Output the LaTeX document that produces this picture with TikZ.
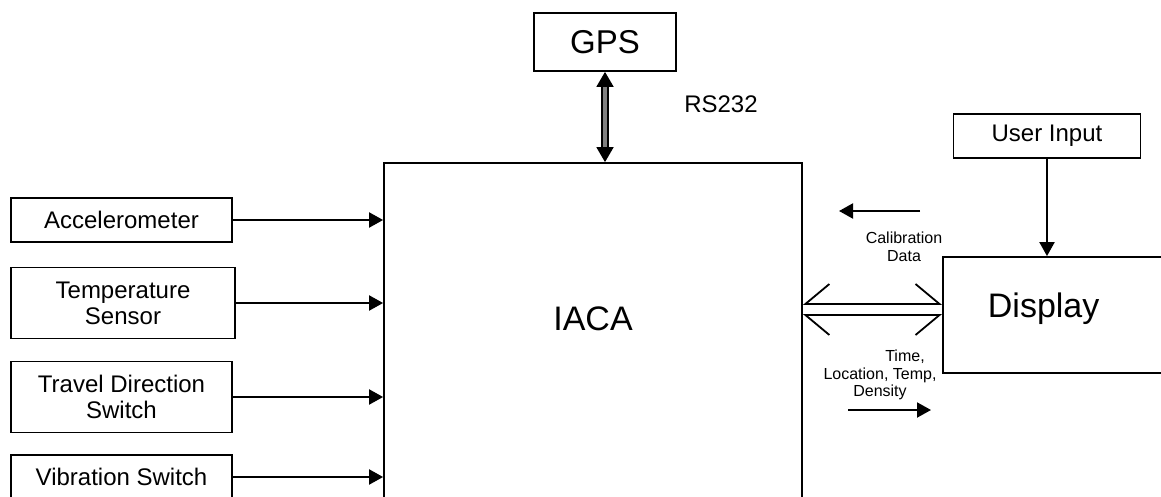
\documentclass[tikz,border=0pt]{standalone}
\usepackage{fontspec}
\setmainfont{Liberation Sans}
\usetikzlibrary{arrows.meta}

\tikzset{
  block/.style={draw, line width=1.8pt, inner sep=0pt, align=center, font=\fontsize{24}{26}\selectfont},
  bigtext/.style={font=\fontsize{34}{36}\selectfont},
  feed/.style={line width=2pt, -{Triangle[length=14pt,width=15pt]}},
  note/.style={align=center, inner sep=0pt, font=\fontsize{16}{17.5}\selectfont},
  barbT/.style={line width=1.8pt, {Straight Barb[right,length=24pt,width=40pt]}-{Straight Barb[left,length=24pt,width=40pt]}},
  barbB/.style={line width=1.8pt, {Straight Barb[left,length=24pt,width=40pt]}-{Straight Barb[right,length=24pt,width=40pt]}}
}

\begin{document}
\begin{tikzpicture}[x=1pt,y=-1pt]
        \useasboundingbox (0,0) rectangle (1161,497);

        % sensors
        \node[block, minimum width=221pt, minimum height=44pt] (acc) at (121.5, 220) {Accelerometer};
        \node[block, minimum width=224pt, minimum height=71pt] (temp) at (123, 303) {Temperature\\Sensor};
        \node[block, minimum width=221pt, minimum height=71pt] (travel) at (121.5, 397) {Travel Direction\\Switch};
        \node[block, minimum width=221pt, minimum height=44pt] (vib) at (121.5, 477) {Vibration Switch};

        % main unit
        \node[block, bigtext, minimum width=418pt, minimum height=357pt, text depth=45pt] (iaca) at (593, 341.5) {IACA};
        \node[block, font=\fontsize{33}{36}\selectfont, minimum width=142pt, minimum height=58pt] (gps) at (605, 42) {GPS};
        \node[inner sep=0pt, font=\fontsize{24}{26}\selectfont] (rs) at (721, 104) {RS232};

        % display side
        \node[block, minimum width=187pt, minimum height=44pt] (user) at (1047, 136) {User Input};
        \node[block, bigtext, anchor=west, minimum height=116pt, text width=150pt, inner xsep=45pt, align=left, text depth=20pt] (disp) at (942, 315) {Display};
        \node[note] (cal) at (904, 247) {Calibration\\Data};
        \node[note] (info) at (880, 375) {\hspace*{50pt}Time,\\Location, Temp,\\Density};

        \coordinate (calA) at (920, 211);
        \coordinate (calB) at (839, 211);
        \coordinate (infoA) at (848, 410);
        \coordinate (infoB) at (931, 410);
        \coordinate (linkT) at ([yshift=11pt]disp.west);

        \draw[feed] (acc.east) -- (acc.east -| iaca.west);
        \draw[feed] (temp.east) -- (temp.east -| iaca.west);
        \draw[feed] (travel.east) -- (travel.east -| iaca.west);
        \draw[feed] (vib.east) -- (vib.east -| iaca.west);
        \draw[line width=1.8pt, double=gray, double distance=3.5pt, {Triangle[length=15pt,width=17pt]}-{Triangle[length=15pt,width=17pt]}] (gps.south) -- (gps.south |- iaca.north);
        \draw[feed] (user.south) -- (user.south |- disp.north);
        \draw[barbT] (linkT -| iaca.east) -- (linkT);
        \draw[barbB] (disp.west -| iaca.east) -- (disp.west);
        \draw[feed] (calA) -- (calB);
        \draw[feed] (infoA) -- (infoB);
      \end{tikzpicture}
\end{document}
